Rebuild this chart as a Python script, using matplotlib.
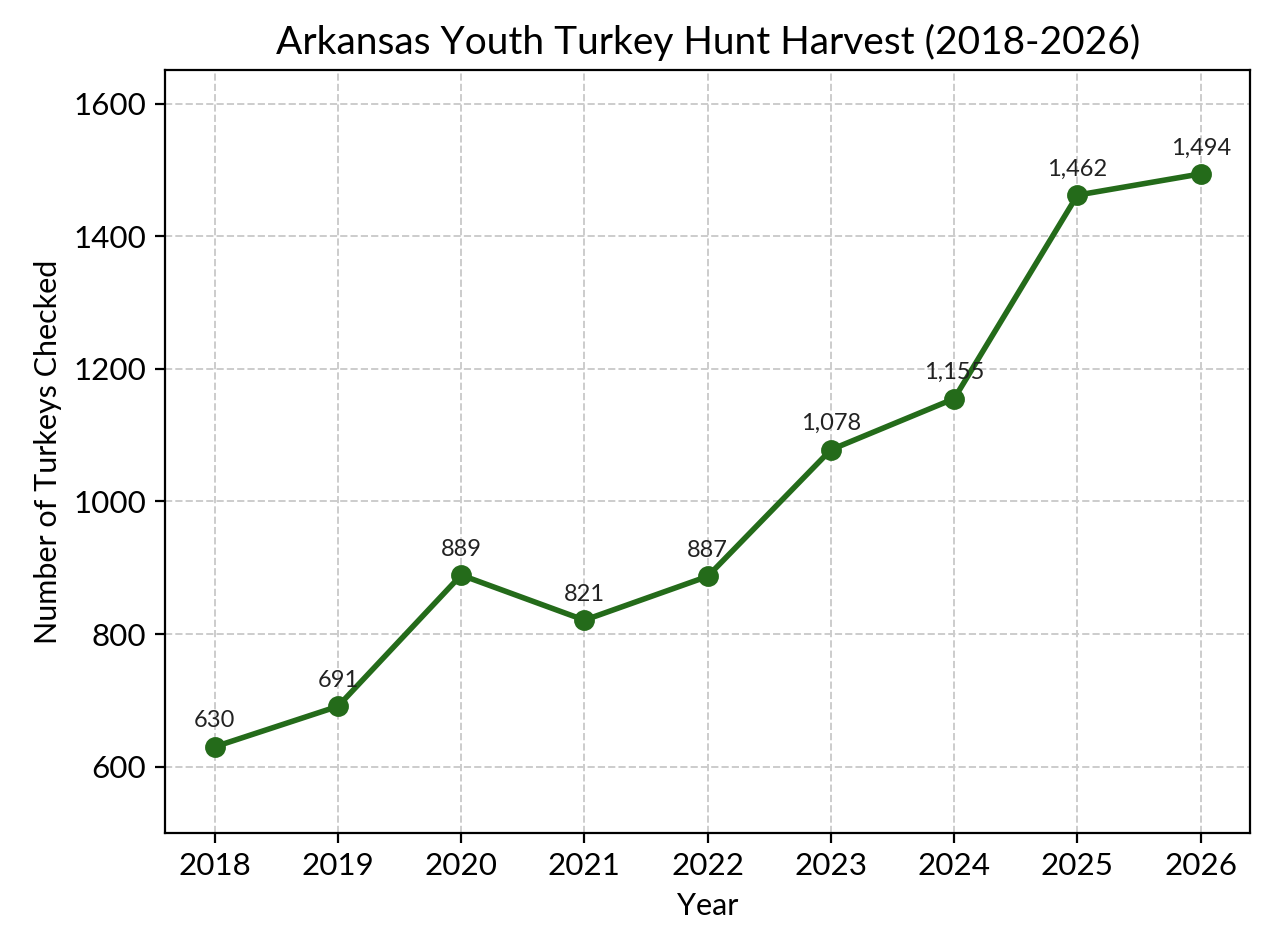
import matplotlib
matplotlib.use("Agg")
import matplotlib.pyplot as plt

years = [2018, 2019, 2020, 2021, 2022, 2023, 2024, 2025, 2026]
harvest = [630, 691, 889, 821, 887, 1078, 1155, 1462, 1494]

plt.rcParams['font.family'] = ['Lato', 'DejaVu Sans']

fig, ax = plt.subplots(figsize=(6.41, 4.76), dpi=200)
ax.plot(years, harvest, color='#246b1a', marker='o', linewidth=2, markersize=6.5)

for x, y in zip(years, harvest):
    ax.annotate(f"{y:,}", (x, y), textcoords="offset points", xytext=(0, 7),
                ha='center', fontsize=8.5, color='#222222')

ax.set_title("Arkansas Youth Turkey Hunt Harvest (2018-2026)", fontsize=14)
ax.set_xlabel("Year", fontsize=11)
ax.set_ylabel("Number of Turkeys Checked", fontsize=11)
ax.set_xticks(years)
ax.set_ylim(500, 1650)
ax.set_yticks([600, 800, 1000, 1200, 1400, 1600])
ax.tick_params(labelsize=11.3)
ax.grid(True, linestyle='--', color='#cccccc', linewidth=0.7)

fig.subplots_adjust(left=0.129, right=0.975, top=0.926, bottom=0.125)
fig.savefig("out.png", dpi=200)
